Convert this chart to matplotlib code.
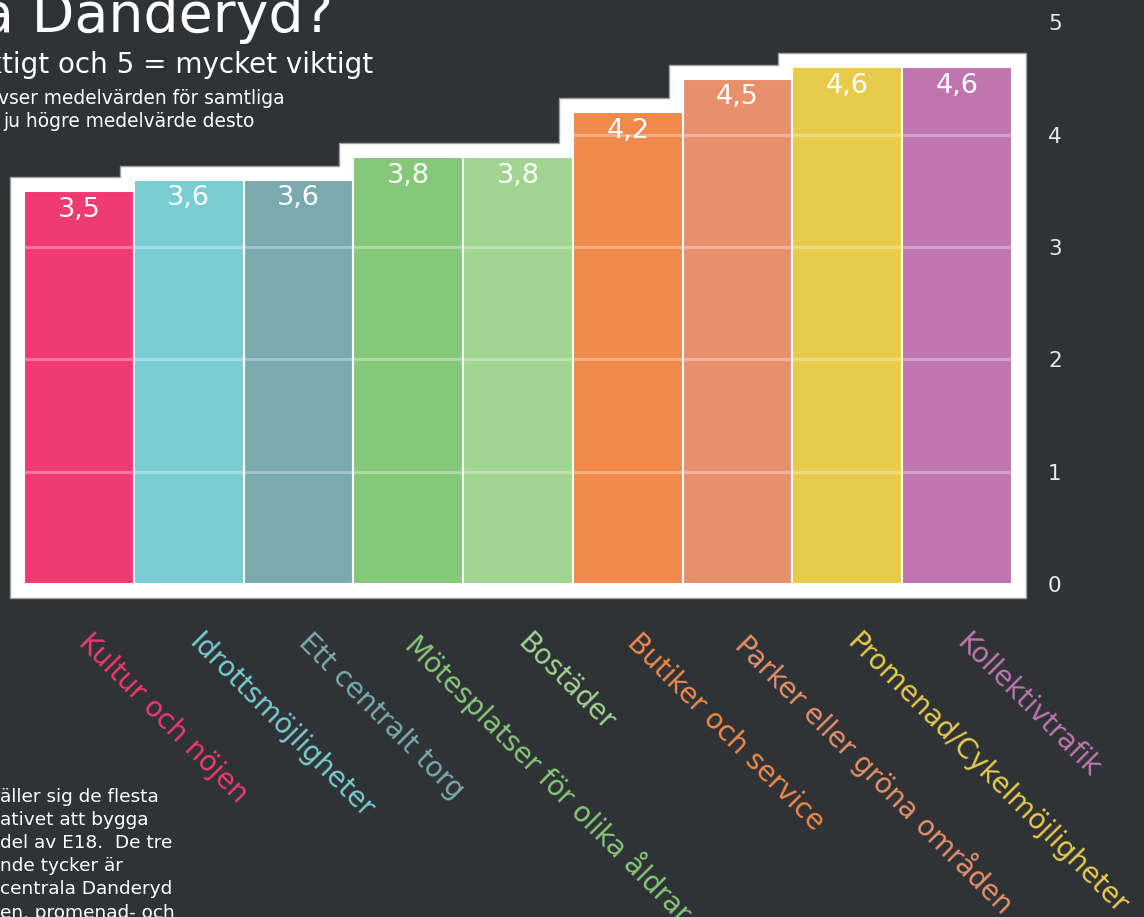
import matplotlib
matplotlib.use("Agg")
import matplotlib.pyplot as plt

categories = ["Kultur och nöjen", "Idrottsmöjligheter", "Ett centralt torg",
              "Mötesplatser för olika åldrar", "Bostäder", "Butiker och service",
              "Parker eller gröna områden", "Promenad/Cykelmöjligheter", "Kollektivtrafik"]
values = [3.5, 3.6, 3.6, 3.8, 3.8, 4.2, 4.5, 4.6, 4.6]
value_labels = ["3,5", "3,6", "3,6", "3,8", "3,8", "4,2", "4,5", "4,6", "4,6"]
colors = ["#F03A72", "#78CCD2", "#7AAAAE", "#86C879", "#A1D391",
          "#F0894A", "#E8906C", "#E8CB4A", "#BF75B0"]
yticks = [0, 1, 2, 3, 4, 5]

title_text = "a Danderyd?"
subtitle_text = "ktigt och 5 = mycket viktigt"
note_lines = ["vser medelvärden för samtliga", "ju högre medelvärde desto"]
body_lines = ["äller sig de flesta", "ativet att bygga", "del av E18.  De tre",
              "nde tycker är", "centrala Danderyd", "en, promenad- och"]

BG = "#303336"
W, H = 1144, 917
fig = plt.figure(figsize=(W / 100, H / 100), dpi=100, facecolor=BG)

ax = fig.add_axes([0, (H - 605) / H, 1030 / W, 605 / H])
ax.set_facecolor(BG)
ux = 109.78
uy = 112.3
ax.set_xlim(-0.5 - 24 / ux, 8.5 + 18 / ux)
ax.set_ylim(-(605 - 584) / uy, 584 / uy)

x = list(range(len(values)))
padx = 14 / ux
pady = 14 / uy

# stepped white frame = union of padded bar rectangles
edges = sorted(set([xi - 0.5 - padx for xi in x] + [xi + 0.5 + padx for xi in x]))
xs, ys = [], []
for a, b in zip(edges[:-1], edges[1:]):
    m = (a + b) / 2
    h = max(v + pady for xi, v in zip(x, values) if xi - 0.5 - padx <= m <= xi + 0.5 + padx)
    xs.append(a)
    ys.append(h)
xs.append(edges[-1])
ys.append(ys[-1])
ax.fill_between(xs, ys, -pady, step="post", facecolor="white",
                edgecolor="#9c9ea0", linewidth=1.0, zorder=1)

ax.bar(x, values, width=1.0, color=colors, edgecolor="white", linewidth=1.5, zorder=2)

# translucent gridlines drawn over the bars only
for yv in yticks[1:-1]:
    for xi, v in zip(x, values):
        if v > yv:
            ax.hlines(yv, xi - 0.5, xi + 0.5, colors="white", alpha=0.32,
                      linewidth=2.2, zorder=3)

for xi, v, lab in zip(x, values, value_labels):
    ax.annotate(lab, (xi, v), xytext=(0, -4), textcoords="offset points",
                ha="center", va="top", color="white", fontsize=19.5, zorder=4)

for s in ax.spines.values():
    s.set_visible(False)

ax.yaxis.tick_right()
ax.set_yticks(yticks)
ax.set_yticklabels([str(t) for t in yticks])
ax.tick_params(axis="y", length=0, pad=13, labelsize=15.5, labelcolor="#E8E8E8")

ax.set_xticks([])
for xi, cat, c in zip(x, categories, colors):
    ax.annotate(cat, (xi, 0), xycoords=("data", "axes fraction"),
                xytext=(10, -17), textcoords="offset points",
                rotation=-45, rotation_mode="anchor", ha="left", va="top",
                color=c, fontsize=20, annotation_clip=False)

def fy(py):
    return 1 - py / H

fig.text(-20 / W, fy(32), title_text, color="white", fontsize=40, va="baseline", ha="left")
fig.text(-14 / W, fy(73), subtitle_text, color="white", fontsize=20, va="baseline", ha="left")
fig.text(-2 / W, fy(104), note_lines[0], color="white", fontsize=13.4, va="baseline", ha="left")
fig.text(3 / W, fy(127), note_lines[1], color="white", fontsize=13.4, va="baseline", ha="left")

for i, line in enumerate(body_lines):
    fig.text(0, fy(802 + 23.1 * i), line, color="white", fontsize=13.3, va="baseline", ha="left")

fig.savefig("out.png", dpi=100, facecolor=BG)
